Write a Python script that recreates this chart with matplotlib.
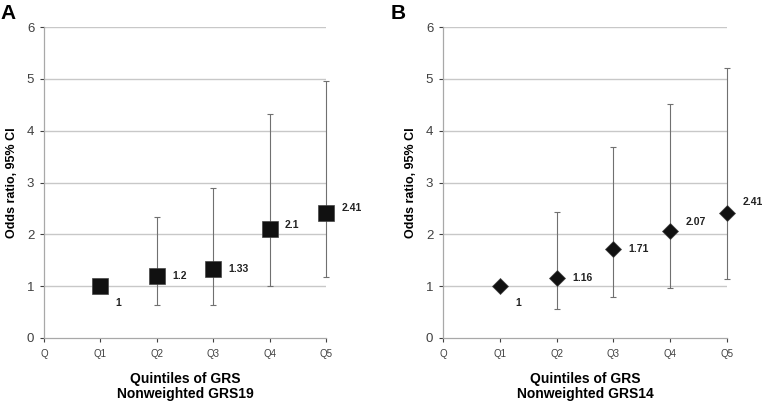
import matplotlib
matplotlib.use('Agg')
import matplotlib.pyplot as plt

plt.rcParams['font.family'] = ['Liberation Sans', 'DejaVu Sans']

cats = ['Q', 'Q1', 'Q2', 'Q3', 'Q4', 'Q5']

# panel A: nonweighted GRS19
or_a = [1, 1.2, 1.33, 2.1, 2.41]
lo_a = [1, 0.63, 0.63, 1.01, 1.17]
hi_a = [1, 2.33, 2.89, 4.32, 4.95]
lab_a = ['1', '1.2', '1.33', '2.1', '2.41']

# panel B: nonweighted GRS14
or_b = [1, 1.16, 1.71, 2.07, 2.41]
lo_b = [1, 0.55, 0.80, 0.96, 1.13]
hi_b = [1, 2.44, 3.69, 4.51, 5.20]
lab_b = ['1', '1.16', '1.71', '2.07', '2.41']

fig = plt.figure(figsize=(7.62, 4.08), dpi=100)


def panel(rect, ors, lo, hi, labels, marker, ms, xlab, letter, letter_x, label_dy):
    ax = fig.add_axes(rect)
    x = list(range(1, len(ors) + 1))
    err = [[o - l for o, l in zip(ors, lo)], [h - o for o, h in zip(ors, hi)]]
    for yv in range(1, 7):
        ax.axhline(yv, color='#c8c8c8', lw=1, zorder=0)
    eb = ax.errorbar(x, ors, yerr=err, fmt='none', ecolor='#707070', elinewidth=0.8,
                     capsize=2, capthick=0.8, zorder=2)
    for art in eb.lines[1] + eb.lines[2]:
        art.set_clip_on(False)
    ax.plot(x, ors, linestyle='none', marker=marker, ms=ms, color='#111111',
            markeredgecolor='#444444', markeredgewidth=0.5, zorder=3, clip_on=False)
    for xi, yi, t, dy in zip(x, ors, labels, label_dy):
        ax.annotate(t, (xi, yi), xytext=(11, dy), textcoords='offset points',
                    fontsize=7.5, fontweight='bold', color='#222222', va='center', ha='left')
    ax.set_xlim(0, 5)
    ax.set_ylim(0, 6)
    ax.set_xticks(range(len(cats)))
    ax.set_xticklabels(cats, fontsize=7, color='#404040')
    ax.set_yticks(range(7))
    ax.tick_params(axis='y', labelsize=9.5, colors='#404040', length=3, width=0.8, pad=4)
    ax.tick_params(axis='x', length=3, width=0.8, colors='#404040', pad=5)
    for s in ['top', 'right']:
        ax.spines[s].set_visible(False)
    for s in ['left', 'bottom']:
        ax.spines[s].set_color('#a8a8a8')
        ax.spines[s].set_linewidth(0.9)
    ax.set_ylabel('Odds ratio, 95% CI', fontsize=9, fontweight='bold', labelpad=6)
    ax.set_xlabel(xlab, fontsize=10, fontweight='bold', labelpad=9, linespacing=1.1)
    fig.text(letter_x, 0.99, letter, fontsize=15, fontweight='bold', va='top', ha='left')
    return ax


panel([44 / 762, 70 / 408, 282 / 762, 311 / 408], or_a, lo_a, hi_a, lab_a, 's', 11,
      'Quintiles of GRS\nNonweighted GRS19', 'A', 0.0, [-12, 0, 0, 3, 4])
panel([443 / 762, 70 / 408, 284 / 762, 311 / 408], or_b, lo_b, hi_b, lab_b, 'D', 8,
      'Quintiles of GRS\nNonweighted GRS14', 'B', 0.513, [-12, 0, 0, 6, 8])

fig.savefig('out.png', dpi=100)
